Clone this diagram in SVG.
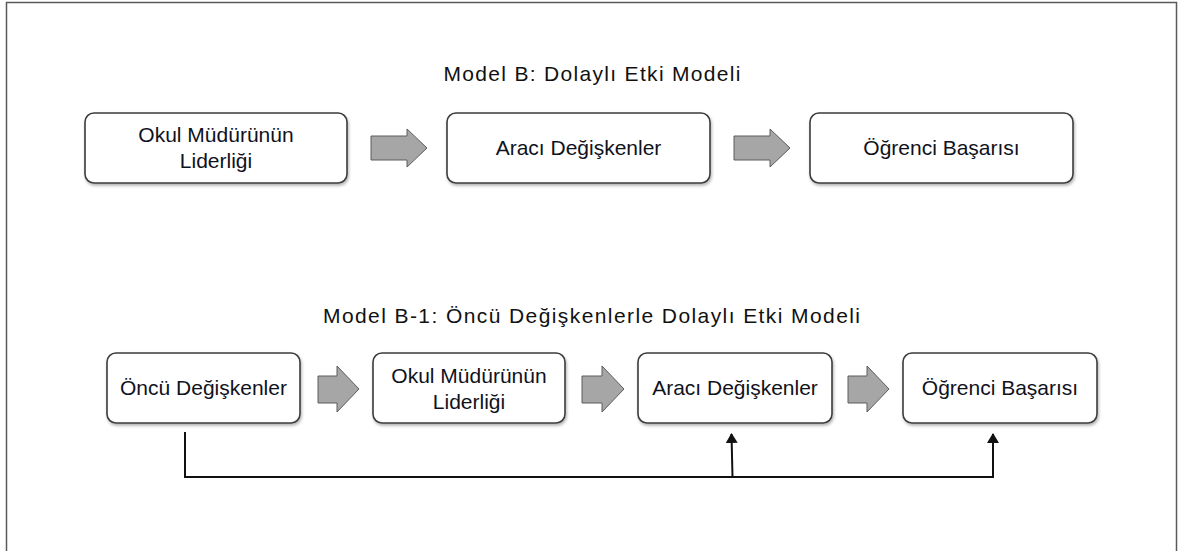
<svg xmlns="http://www.w3.org/2000/svg" width="1179" height="551" viewBox="0 0 1179 551">
  <style>
    .frame { fill: #ffffff; stroke: #5a5a5a; stroke-width: 1.5; }
    .box { fill: #ffffff; stroke: #3c3c3c; stroke-width: 1.6; filter: url(#shadow); }
    .flow { fill: #a6a6a6; stroke: #5c5c5c; stroke-width: 1; }
    .label { font-family: "Liberation Sans", Arial, sans-serif; font-size: 21px; fill: #10121c; text-anchor: middle; }
    .title { font-family: "Liberation Sans", Arial, sans-serif; font-size: 21px; fill: #111111; text-anchor: middle; }
    .link { fill: none; stroke: #111111; stroke-width: 2; }
  </style>
  <defs>
    <filter id="shadow" x="-10%" y="-20%" width="120%" height="150%">
      <feDropShadow dx="1" dy="2" stdDeviation="1.5" flood-color="#000000" flood-opacity="0.3"/>
    </filter>
    <marker id="head" viewBox="0 0 10 12" refX="9" refY="6" markerWidth="10" markerHeight="12" markerUnits="userSpaceOnUse" orient="auto">
      <path d="M0,0 L10,6 L0,12 Z" fill="#111111"/>
    </marker>
  </defs>

  <!-- page frame -->
  <rect class="frame" x="6.5" y="2.5" width="1170" height="600"/>

  <!-- Model B -->
  <text class="title" x="592" y="81" textLength="297" lengthAdjust="spacing">Model B: Dolaylı Etki Modeli</text>

  <g id="b-leadership">
    <rect class="box" x="85" y="113" width="262" height="70" rx="9"/>
    <text class="label" x="216" y="142">Okul Müdürünün</text>
    <text class="label" x="216" y="168">Liderliği</text>
  </g>
  <g id="b-mediators">
    <rect class="box" x="447" y="113" width="263" height="70" rx="9"/>
    <text class="label" x="578.5" y="155">Aracı Değişkenler</text>
  </g>
  <g id="b-achievement">
    <rect class="box" x="810" y="113" width="263" height="70" rx="9"/>
    <text class="label" x="941.5" y="155">Öğrenci Başarısı</text>
  </g>

  <!-- Model B-1 -->
  <text class="title" x="591.5" y="323" textLength="537" lengthAdjust="spacing">Model B-1: Öncü Değişkenlerle Dolaylı Etki Modeli</text>

  <g id="b1-antecedents">
    <rect class="box" x="107" y="353" width="193" height="70" rx="9"/>
    <text class="label" x="203.5" y="395">Öncü Değişkenler</text>
  </g>
  <g id="b1-leadership">
    <rect class="box" x="373" y="353" width="192" height="70" rx="9"/>
    <text class="label" x="469" y="383">Okul Müdürünün</text>
    <text class="label" x="469" y="409">Liderliği</text>
  </g>
  <g id="b1-mediators">
    <rect class="box" x="638" y="353" width="194" height="70" rx="9"/>
    <text class="label" x="735" y="395">Aracı Değişkenler</text>
  </g>
  <g id="b1-achievement">
    <rect class="box" x="903" y="353" width="194" height="70" rx="9"/>
    <text class="label" x="1000" y="395">Öğrenci Başarısı</text>
  </g>

  <!-- connectors -->
  <g id="connectors">
    <!-- block arrows, Model B -->
    <path class="flow" d="M371,136 H407 V129 L427,148 L407,167 V160 H371 Z"/>
    <path class="flow" d="M734,136 H770 V129 L790,148 L770,167 V160 H734 Z"/>
    <!-- block arrows, Model B-1 -->
    <path class="flow" d="M318,376 H337 V366 L359,389 L337,412 V403 H318 Z"/>
    <path class="flow" d="M582,376 H602 V366 L624,389 L602,412 V403 H582 Z"/>
    <path class="flow" d="M848,376 H867 V366 L889,389 L867,412 V403 H848 Z"/>
    <!-- direct paths from antecedents -->
    <path class="link" d="M185,432 V477 H993 V434" marker-end="url(#head)"/>
    <path class="link" d="M732.5,477 L731.5,434" marker-end="url(#head)"/>
  </g>
</svg>
